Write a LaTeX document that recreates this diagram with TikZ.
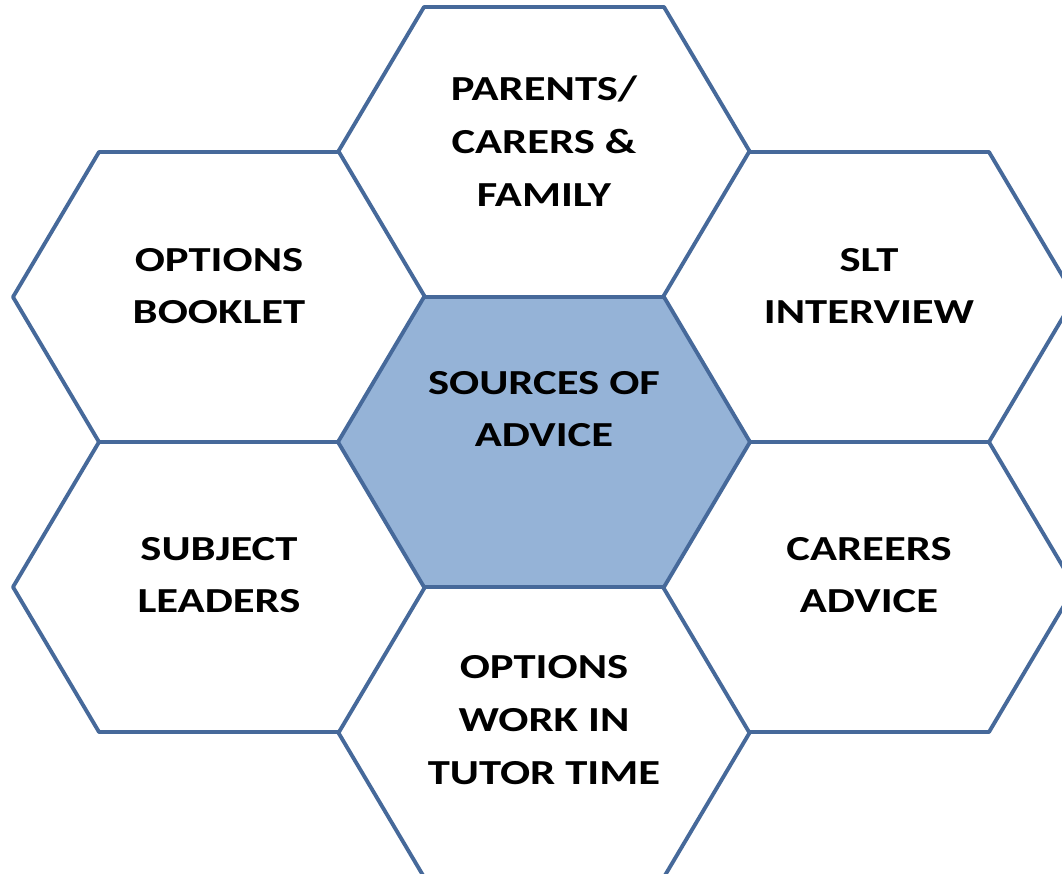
\documentclass[tikz,border=0pt]{standalone}
\usepackage{fontspec}
\setmainfont{Carlito}[FakeStretch=1.27]
\usepackage{xcolor}
\usepackage{tikz}
\definecolor{hexline}{HTML}{46699A}
\definecolor{hubfill}{HTML}{95B3D7}
\tikzstyle{cell}=[draw=hexline,line width=2.2pt,fill=white,line join=round]
\tikzstyle{hub}=[cell,fill=hubfill]
\tikzstyle{label}=[font=\bfseries\fontsize{20}{30}\selectfont,align=center,text=black,inner sep=0pt]
% one hexagon round a named centre
\newcommand{\hexcell}[2]{\draw[#2,shift={(#1)}] (-206,0) -- (-120,145) -- (120,145) -- (206,0) -- (120,-145) -- (-120,-145) -- cycle;}

\begin{document}
\begin{tikzpicture}[x=0.02cm,y=-0.02cm]
    \useasboundingbox[fill=white] (0,0) rectangle (1062,873);
    \clip (0,0) rectangle (1062,873);
    % centres of the cells
    \coordinate (c-hub) at (544,442);
    \coordinate (c-top) at (544,152);
    \coordinate (c-bot) at (544,732);
    \coordinate (c-ul) at (219,297);
    \coordinate (c-ll) at (219,587);
    \coordinate (c-ur) at (869,297);
    \coordinate (c-lr) at (869,587);
    \hexcell{c-top}{cell}
    \hexcell{c-bot}{cell}
    \hexcell{c-ul}{cell}
    \hexcell{c-ll}{cell}
    \hexcell{c-ur}{cell}
    \hexcell{c-lr}{cell}
    \hexcell{c-hub}{hub}
    % texts
    \node[label] (hub) at (544,409) {SOURCES OF\\ADVICE};
    \node[label] (parents) at (544,141) {PARENTS/\\CARERS \&\\FAMILY};
    \node[label] (booklet) at (219,286) {OPTIONS\\BOOKLET};
    \node[label] (slt) at (869,286) {SLT\\INTERVIEW};
    \node[label] (leaders) at (219,575) {SUBJECT\\LEADERS};
    \node[label] (careers) at (869,575) {CAREERS\\ADVICE};
    \node[label] (tutor) at (544,720) {OPTIONS\\WORK IN\\TUTOR TIME};
\end{tikzpicture}
\end{document}
